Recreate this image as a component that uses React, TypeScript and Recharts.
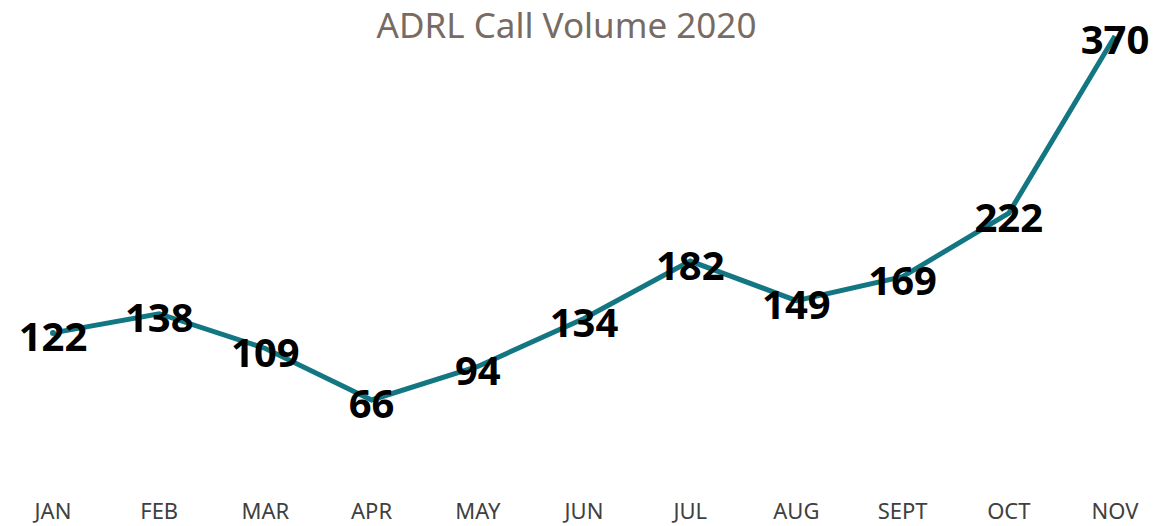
import { LineChart, Line, XAxis, YAxis, LabelList } from "recharts";

const months = ["JAN", "FEB", "MAR", "APR", "MAY", "JUN", "JUL", "AUG", "SEPT", "OCT", "NOV"];
const calls = [122, 138, 109, 66, 94, 134, 182, 149, 169, 222, 370];

const data = months.map((m, i) => ({ month: m, calls: calls[i] }));

const renderLabel = (props: any) => {
  const { x, y, value } = props;
  return (
    <text
      x={x}
      y={y + 3}
      textAnchor="middle"
      dominantBaseline="central"
      fontFamily="'Noto Sans', sans-serif"
      fontWeight={700}
      fontSize={40}
      fill="#000000"
    >
      {value}
    </text>
  );
};

const renderTick = (props: any) => {
  const { x, payload } = props;
  return (
    <text
      x={x}
      y={519}
      textAnchor="middle"
      fontFamily="'Noto Sans', sans-serif"
      fontSize={22}
      fill="#404040"
    >
      {payload.value}
    </text>
  );
};

export default function App() {
  return (
    <div style={{ position: "absolute", left: 0, top: 0, width: 1175, height: 526, background: "#fff" }}>
      <LineChart
        width={1175}
        height={526}
        data={data}
        margin={{ top: 0, right: 7, bottom: 0, left: 0 }}
      >
        <XAxis
          dataKey="month"
          axisLine={false}
          tickLine={false}
          tick={renderTick}
          interval={0}
          height={47}
          padding={{ left: 53, right: 53 }}
        />
        <YAxis hide domain={[0, 400]} />
        <Line
          type="linear"
          dataKey="calls"
          stroke="#137683"
          strokeWidth={5}
          dot={false}
          isAnimationActive={false}
        >
          <LabelList dataKey="calls" content={renderLabel} />
        </Line>
      </LineChart>
      <div
        style={{
          position: "absolute",
          left: 0,
          top: 3,
          width: 1133,
          textAlign: "center",
          fontFamily: "'Noto Sans', sans-serif",
          fontSize: 35,
          color: "#776b63",
          lineHeight: "44px",
        }}
      >
        ADRL Call Volume 2020
      </div>
    </div>
  );
}
